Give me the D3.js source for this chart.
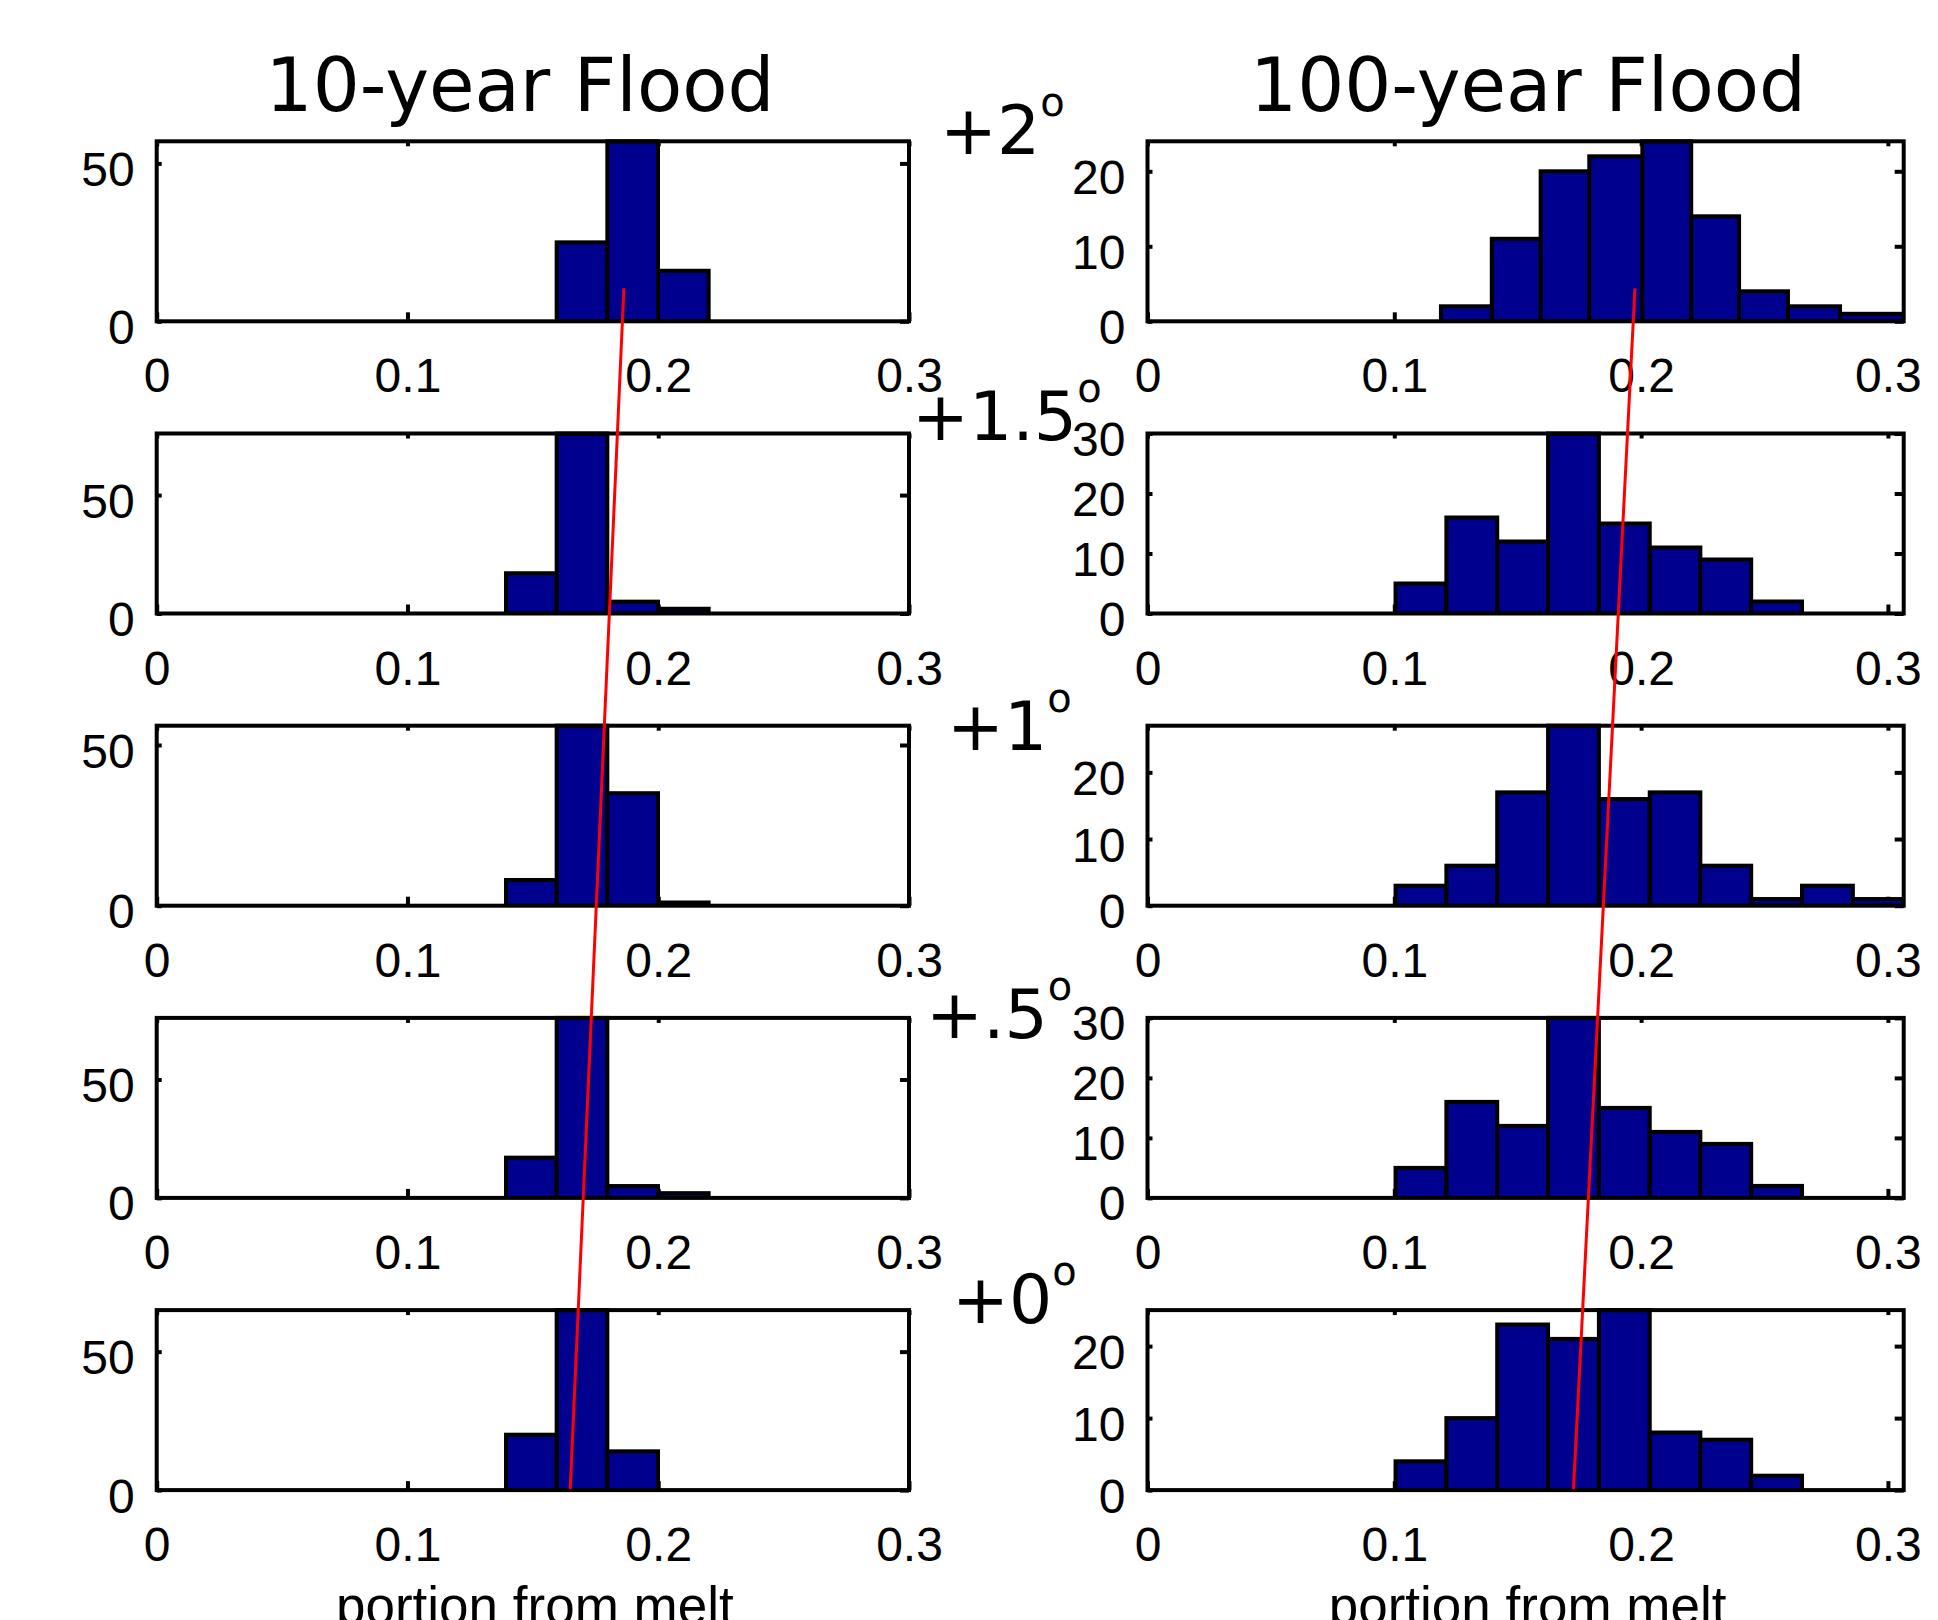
<!DOCTYPE html>
<html>
<head>
<meta charset="utf-8">
<script src="https://cdn.jsdelivr.net/npm/d3@7"></script>
<style>
  html, body { margin: 0; padding: 0; background: #ffffff; }
  svg { display: block; }
</style>
</head>
<body>
<svg id="chart" width="1938" height="1620"></svg>
<script>
// ---------------- data ----------------
const warmingLevels = ["+2", "+1.5", "+1", "+.5", "+0"];
const floodTitles = ["10-year Flood", "100-year Flood"];
const xLabelText = "portion from melt";
const xTickValues = [0, 0.1, 0.2, 0.3];
const xTickLabels = ["0", "0.1", "0.2", "0.3"];
const yTicks10 = [0, 50];
const yTicks100 = [0, 10, 20, 30];
const xMax10 = 0.3;
const xMax100 = 0.3064;

// 10-year flood histograms (bin edges in melt portion, counts per bin)
const binEdges10 = [0.1393, 0.1595, 0.1797, 0.1999, 0.2201];
const counts10_p2  = [0, 25, 57, 16];
const counts10_p15 = [17, 76, 5, 2];
const counts10_p1  = [8, 56, 35, 1];
const counts10_p05 = [17, 76, 5, 2];
const counts10_p0  = [20, 65, 14, 0];

// 100-year flood histograms
const binEdges100_p2 = [0.1189, 0.1395, 0.1593, 0.1790, 0.2005, 0.2203, 0.2397, 0.2595, 0.2806, 0.3064];
const binEdges100    = [0.1005, 0.1211, 0.1417, 0.1623, 0.1829, 0.2035, 0.2240, 0.2446, 0.2652, 0.2858, 0.3064];
const counts100_p2  = [2, 11, 20, 22, 24, 14, 4, 2, 1];
const counts100_p15 = [5, 16, 12, 30, 15, 11, 9, 2, 0, 0];
const counts100_p1  = [3, 6, 17, 27, 16, 17, 6, 1, 3, 1];
const counts100_p05 = [5, 16, 12, 30, 15, 11, 9, 2, 0, 0];
const counts100_p0  = [4, 10, 23, 21, 25, 8, 7, 2, 0, 0];

// trend of melt portion, from +0 deg (bottom) to +2 deg (top)
const meltTrend10  = [0.1649, 0.1863];
const meltTrend100 = [0.1726, 0.1975];

// ---------------- layout ----------------
const svg = d3.select("#chart");
const colRange = [[156.7, 909], [1147.5, 1903.7]];
const rowTop0 = 141.3, rowStep = 292.2, rowH = 180;
const rowTop = i => rowTop0 + i * rowStep;
const barFill = "#00008F";
const tickFont = "'Liberation Sans', Arial, sans-serif";
const textFont = "'DejaVu Sans', sans-serif";

const panels = [
  { col: 0, row: 0, edges: binEdges10, counts: counts10_p2 },
  { col: 0, row: 1, edges: binEdges10, counts: counts10_p15 },
  { col: 0, row: 2, edges: binEdges10, counts: counts10_p1 },
  { col: 0, row: 3, edges: binEdges10, counts: counts10_p05 },
  { col: 0, row: 4, edges: binEdges10, counts: counts10_p0 },
  { col: 1, row: 0, edges: binEdges100_p2, counts: counts100_p2 },
  { col: 1, row: 1, edges: binEdges100, counts: counts100_p15 },
  { col: 1, row: 2, edges: binEdges100, counts: counts100_p1 },
  { col: 1, row: 3, edges: binEdges100, counts: counts100_p05 },
  { col: 1, row: 4, edges: binEdges100, counts: counts100_p0 }
];

const xScales = [
  d3.scaleLinear().domain([0, xMax10]).range(colRange[0]),
  d3.scaleLinear().domain([0, xMax100]).range(colRange[1])
];

function styleAxis(g) {
  g.select(".domain").remove();
  g.selectAll(".tick line").attr("stroke", "#000").attr("stroke-width", 4);
  g.selectAll(".tick text")
    .attr("fill", "#000")
    .style("font-family", tickFont)
    .style("font-size", "48px");
}

panels.forEach(p => {
  const x = xScales[p.col];
  const top = rowTop(p.row), bottom = top + rowH;
  const yMax = d3.max(p.counts);
  const y = d3.scaleLinear().domain([0, yMax]).range([bottom, top]);
  const yT = (p.col === 0 ? yTicks10 : yTicks100).filter(v => v <= yMax);
  const g = svg.append("g");

  // axes (ticks drawn beneath bars)
  g.append("g").attr("transform", `translate(0,${bottom})`)
    .call(d3.axisBottom(x).tickValues(xTickValues)
      .tickFormat((d, i) => xTickLabels[i]).tickSize(-9).tickPadding(37))
    .call(styleAxis);
  g.append("g").attr("transform", `translate(0,${top})`)
    .call(d3.axisTop(x).tickValues(xTickValues).tickFormat("").tickSize(-5))
    .call(styleAxis);
  g.append("g").attr("transform", `translate(${colRange[p.col][0]},0)`)
    .call(d3.axisLeft(y).tickValues(yT).tickSize(-5).tickPadding(22))
    .call(styleAxis)
    .call(a => a.selectAll(".tick text").attr("dy", "0.46em"));
  g.append("g").attr("transform", `translate(${colRange[p.col][1]},0)`)
    .call(d3.axisRight(y).tickValues(yT).tickFormat("").tickSize(-9))
    .call(styleAxis);

  // bars
  const bins = p.counts.map((c, i) => ({ x0: p.edges[i], x1: p.edges[i + 1], c }))
    .filter(b => b.c > 0);
  const clipId = `clip-${p.col}-${p.row}`;
  g.append("clipPath").attr("id", clipId).append("rect")
    .attr("x", colRange[p.col][0]).attr("y", top - 3)
    .attr("width", colRange[p.col][1] - colRange[p.col][0]).attr("height", rowH + 3);
  g.append("g").attr("clip-path", `url(#${clipId})`)
    .selectAll("rect").data(bins).join("rect")
    .attr("x", b => x(b.x0))
    .attr("width", b => x(b.x1) - x(b.x0))
    .attr("y", b => y(b.c))
    .attr("height", b => bottom - y(b.c))
    .attr("fill", barFill)
    .attr("stroke", "#000")
    .attr("stroke-width", 4);

  // axes box
  g.append("rect")
    .attr("x", colRange[p.col][0]).attr("y", top)
    .attr("width", colRange[p.col][1] - colRange[p.col][0]).attr("height", rowH)
    .attr("fill", "none").attr("stroke", "#000").attr("stroke-width", 4);
});

// column titles
const titleX = [520, 1528];
floodTitles.forEach((t, i) => {
  svg.append("text").attr("x", titleX[i]).attr("y", 111)
    .attr("text-anchor", "middle")
    .style("font-family", textFont).style("font-size", "74px")
    .attr("fill", "#000").text(t);
});

// x labels
colRange.forEach(r => {
  svg.append("text").attr("x", (r[0] + r[1]) / 2 + 2).attr("y", 1624)
    .attr("text-anchor", "middle")
    .style("font-family", tickFont).style("font-size", "53px")
    .attr("fill", "#000").text(xLabelText);
});

// warming level labels
const levelX = [940, 912, 947, 926, 952];
const levelBaseOffset = [12.7, 6.5, 24.3, 20.1, 13];
warmingLevels.forEach((lv, i) => {
  const t = svg.append("text")
    .attr("x", levelX[i]).attr("y", rowTop(i) + levelBaseOffset[i])
    .style("font-family", textFont).style("font-size", "68px")
    .attr("fill", "#000");
  t.append("tspan").text(lv);
  t.append("tspan").attr("dy", -38).style("font-size", "40px").text("o");
});

// red trend lines across the panels
const yTrendBottom = rowTop(4) + rowH - 1;
const yTrendTop = rowTop(0) + rowH - 33;
const trendLine = d3.line().x(d => d[0]).y(d => d[1]);
[meltTrend10, meltTrend100].forEach((tr, c) => {
  const pts = [[xScales[c](tr[0]), yTrendBottom], [xScales[c](tr[1]), yTrendTop]];
  svg.append("path").attr("d", trendLine(pts))
    .attr("fill", "none").attr("stroke", "#FF0000").attr("stroke-width", 3);
});
</script>
</body>
</html>
